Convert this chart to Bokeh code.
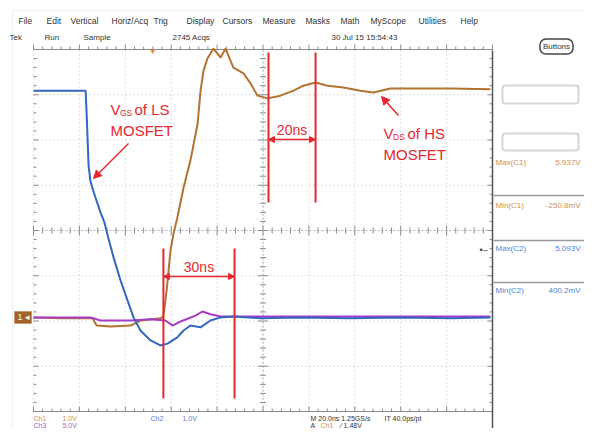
import numpy as np
from bokeh.plotting import figure
from bokeh.models import Range1d, Label, Arrow, NormalHead, BoxAnnotation
from bokeh.embed import file_html
from bokeh.resources import INLINE

# ---------------- data ----------------
ns_per_div = 20.0
n_hdiv = 10
n_vdiv = 8
ground_div = -1.92            # ground level of all channels (divisions)
ch1_v_per_div = 1.0
ch2_v_per_div = 1.0
ch3_v_per_div = 5.0

ch1_time_ns = [0, 11.8, 25.7, 27.5, 33.6, 42.3, 46.6, 55.3, 56.6, 58.0, 59.7, 61.0,
               62.7, 65.4, 68.4, 71.5, 72.8, 74.1, 75.8, 77.1, 78.4, 80.2, 81.5,
               83.7, 85.8, 87.1, 91.5, 94.6, 97.6, 102.0, 107.6, 113.3, 117.6,
               122.9, 128.1, 135.1, 142.5, 148.1, 155.6, 167.3, 181.7, 199.1]
ch1_volts = [0.0, -0.02, -0.02, -0.18, -0.20, -0.18, -0.07, -0.02, 0.02, 0.59, 1.48,
             1.85, 2.21, 2.87, 3.47, 4.28, 5.01, 5.46, 5.72, 5.83, 5.94, 5.83, 5.74,
             5.94, 5.68, 5.52, 5.39, 5.17, 4.90, 4.84, 4.90, 5.01, 5.12, 5.19, 5.12,
             5.08, 5.01, 4.97, 5.06, 5.06, 5.06, 5.04]

ch2_time_ns = [0, 22.7, 23.1, 24.0, 24.8, 25.7, 27.0, 29.2, 30.9, 32.7, 34.9, 37.9,
               41.0, 43.6, 46.6, 51.0, 55.3, 58.4, 62.7, 65.4, 68.4, 72.8, 77.1,
               81.5, 87.1, 98.9, 116.3, 138.1, 159.9, 181.7, 199.1]
ch2_volts = [5.01, 5.01, 4.57, 3.36, 3.02, 2.85, 2.65, 2.32, 2.10, 1.74, 1.32, 0.82,
             0.37, 0.0, -0.29, -0.51, -0.62, -0.58, -0.44, -0.29, -0.18, -0.22,
             -0.07, 0.0, 0.02, -0.02, 0.0, -0.02, 0.0, -0.02, 0.0]

ch3_time_ns = [0, 24.8, 29.2, 42.3, 51.0, 57.5, 60.6, 64.1, 70.6, 73.6, 77.1, 81.5,
               98.9, 199.1]
ch3_volts = [0.0, 0.0, -0.35, -0.35, -0.2, -0.35, -0.9, -0.45, 0.2, 0.65, 0.35, 0.1,
             0.1, 0.1]

cursor_pair_a_ns = [56.6, 87.6]
cursor_pair_b_ns = [102.4, 122.9]
cursor_labels = ["30ns", "20ns"]
trigger_time_ns = 51.9
trigger_level_v = 1.48

menu_items = ["File", "Edit", "Vertical", "Horiz/Acq", "Trig", "Display", "Cursors",
              "Measure", "Masks", "Math", "MyScope", "Utilities", "Help"]
status_items = ["Tek", "Run", "Sample", "2745 Acqs", "30 Jul 15 15:54:43"]
meas_names = ["Max(C1)", "Min(C1)", "Max(C2)", "Min(C2)"]
meas_values = ["5.937V", "-250.8mV", "5.093V", "400.2mV"]

# ---------------- layout helpers (screen pixels of the reference) ----------------
X0, PX_NS, Y0, PX_DIV = 33.0, 2.295, 230.0, 45.25
def X(px): return (px - X0) / PX_NS
def Y(py): return (Y0 - py) / PX_DIV
def dx(px): return px / PX_NS
def dy(px): return px / PX_DIV

W, H = 584, 428
FONT = "Liberation Sans"
C1, C2, C3 = "#b37230", "#3466c2", "#a63cc6"
C1T, C2T, C3T = "#d0904e", "#4f82d4", "#b058c8"
RED = "#e5282f"

p = figure(width=W, height=H, x_range=Range1d(X(0), X(W)),
           y_range=Range1d(Y(H), Y(0)), min_border=0, toolbar_location=None,
           output_backend="svg", background_fill_color="white")
p.axis.visible = False
p.grid.visible = False
p.outline_line_color = None

tmax = ns_per_div * n_hdiv
dtop = n_vdiv / 2

# outer faint frame
p.add_layout(BoxAnnotation(left=X(12), right=X(620), top=Y(10), bottom=Y(460),
                           fill_alpha=0, line_color="#cfcfcf", line_width=1))

# graticule dotted lines
vt = [i * ns_per_div for i in range(n_hdiv + 1)]
hd = [i - dtop for i in range(n_vdiv + 1)]
p.segment(x0=vt, x1=vt, y0=[-dtop] * len(vt), y1=[dtop] * len(vt),
          line_color="#c4c4c4", line_dash="1 3", line_width=1)
p.segment(x0=[0] * len(hd), x1=[tmax] * len(hd), y0=hd, y1=hd,
          line_color="#c4c4c4", line_dash="1 3", line_width=1)

# minor ticks
t_minor = np.arange(0, tmax + 0.01, ns_per_div / 5)
d_minor = np.arange(-dtop, dtop + 0.01, 0.2)
is_major_t = np.isclose(np.mod(t_minor, ns_per_div), 0)
frac_d = np.mod(d_minor + 10, 1.0)
is_major_d = np.isclose(frac_d, 0) | np.isclose(frac_d, 1)
lt = np.where(is_major_t, dy(5), dy(3))
ld = np.where(is_major_d, dx(5), dx(3))
tick_kw = dict(line_color="#8a8a8a", line_width=1)
# center horizontal
p.segment(x0=t_minor, x1=t_minor, y0=-lt, y1=lt, **tick_kw)
p.segment(x0=[0], x1=[tmax], y0=[0], y1=[0], line_color="#b0b0b0", line_dash="2 2")
# center vertical
p.segment(x0=tmax / 2 - ld, x1=tmax / 2 + ld, y0=d_minor, y1=d_minor, **tick_kw)
p.segment(x0=[tmax / 2], x1=[tmax / 2], y0=[-dtop], y1=[dtop], line_color="#b0b0b0", line_dash="2 2")
# top ruler
p.segment(x0=[0], x1=[tmax], y0=[dtop], y1=[dtop], line_color="#8a8a8a")
p.segment(x0=t_minor, x1=t_minor, y0=dtop, y1=dtop + lt, **tick_kw)
# bottom ruler
p.segment(x0=[0], x1=[tmax], y0=[-dtop], y1=[-dtop], line_color="#8a8a8a")
p.segment(x0=t_minor, x1=t_minor, y0=-dtop, y1=-dtop + lt, **tick_kw)
# left/right edge ticks
p.segment(x0=0, x1=ld, y0=d_minor, y1=d_minor, **tick_kw)
p.segment(x0=tmax - ld, x1=tmax, y0=d_minor, y1=d_minor, **tick_kw)
# right panel border
p.segment(x0=[X(492)], x1=[X(492)], y0=[Y(50)], y1=[Y(450)], line_color="#555555", line_width=1.5)

# traces
def to_div(v, scale):
    return [vv / scale + ground_div for vv in v]

p.line(ch1_time_ns, to_div(ch1_volts, ch1_v_per_div), line_color=C1, line_width=2)
p.line(ch3_time_ns, to_div(ch3_volts, ch3_v_per_div), line_color=C3, line_width=2)
p.line(ch2_time_ns, to_div(ch2_volts, ch2_v_per_div), line_color=C2, line_width=2)

# cursors
for pair, lab, ytop, ybot, yarr, ylab in [
        (cursor_pair_a_ns, cursor_labels[0], Y(248), Y(398), Y(276), Y(266)),
        (cursor_pair_b_ns, cursor_labels[1], Y(52), Y(202), Y(139), Y(129))]:
    p.segment(x0=pair, x1=pair, y0=[ytop] * 2, y1=[ybot] * 2, line_color=RED, line_width=2)
    p.add_layout(Arrow(x_start=pair[0], x_end=pair[1], y_start=yarr, y_end=yarr,
                       line_color=RED, line_width=1.5,
                       start=NormalHead(size=6, fill_color=RED, line_color=RED),
                       end=NormalHead(size=6, fill_color=RED, line_color=RED)))
    p.add_layout(Label(x=(pair[0] + pair[1]) / 2, y=ylab, text=lab, text_align="center",
                       text_baseline="middle", text_font=FONT, text_font_size="14px",
                       text_color=RED))

# red annotations
def vlabel(xpx, ybase, sub, rest):
    p.add_layout(Label(x=X(xpx), y=Y(ybase), text="V", text_font=FONT, text_font_size="15px",
                       text_color=RED, text_baseline="alphabetic"))
    p.add_layout(Label(x=X(xpx + 9.5), y=Y(ybase + 3), text=sub, text_font=FONT,
                       text_font_size="8.5px", text_color=RED, text_baseline="alphabetic"))
    p.add_layout(Label(x=X(xpx + 24), y=Y(ybase), text=rest, text_font=FONT,
                       text_font_size="15px", text_color=RED, text_baseline="alphabetic"))
    p.add_layout(Label(x=X(xpx), y=Y(ybase + 21), text="MOSFET", text_font=FONT,
                       text_font_size="15px", text_color=RED, text_baseline="alphabetic"))

vlabel(110, 109, "GS", "of LS")
vlabel(383, 133, "DS", "of HS")
p.add_layout(Arrow(x_start=X(128), y_start=Y(143), x_end=X(93), y_end=Y(178),
                   line_color=RED, line_width=1.5,
                   end=NormalHead(size=8, fill_color=RED, line_color=RED)))
p.add_layout(Arrow(x_start=X(398), y_start=Y(115), x_end=X(381), y_end=Y(96),
                   line_color=RED, line_width=1.5,
                   end=NormalHead(size=8, fill_color=RED, line_color=RED)))

# markers: ground, trigger position, trigger level
p.add_layout(BoxAnnotation(left=X(14), right=X(31), top=ground_div + dy(6),
                           bottom=ground_div - dy(6), fill_color="#a2642a", fill_alpha=1,
                           line_color="#a2642a"))
p.add_layout(Label(x=X(17), y=ground_div, text="1 ◂", text_font=FONT, text_font_size="9px",
                   text_color="white", text_baseline="middle"))
p.add_layout(Label(x=trigger_time_ns, y=Y(51), text="▼", text_font=FONT, text_font_size="8px",
                   text_color="#e08030", text_align="center", text_baseline="middle"))
p.add_layout(Label(x=X(479), y=trigger_level_v / ch1_v_per_div + ground_div, text="•–",
                   text_font=FONT, text_font_size="9px", text_color="#444444",
                   text_baseline="middle"))

# menu bar and status line
menu_x = [18, 46, 70, 111, 153, 186, 222, 262, 305, 340, 370, 418, 460]
for name, xp in zip(menu_items, menu_x):
    p.add_layout(Label(x=X(xp), y=Y(20), text=name, text_font=FONT, text_font_size="8.5px",
                       text_color="#333333", text_baseline="middle"))
status_x = [9, 44, 83, 172, 331]
for name, xp in zip(status_items, status_x):
    p.add_layout(Label(x=X(xp), y=Y(37), text=name, text_font=FONT, text_font_size="8px",
                       text_color="#333333", text_baseline="middle"))
p.add_layout(Label(x=X(556), y=Y(46), text="Buttons", text_font=FONT, text_font_size="8px",
                   text_color="#333333", text_align="center", text_baseline="middle",
                   border_line_color="#444444", border_line_width=1.5, border_radius=6,
                   padding=3, background_fill_color="white"))

# right panel
for yt, yb in [(85, 103), (133, 150)]:
    p.add_layout(BoxAnnotation(left=X(502), right=X(578), top=Y(yt), bottom=Y(yb),
                               fill_color="white", fill_alpha=1, line_color="#777777",
                               line_width=2, border_radius=3))
p.segment(x0=[X(493)] * 3, x1=[X(W)] * 3, y0=[Y(195), Y(240), Y(282)],
          y1=[Y(195), Y(240), Y(282)], line_color="#999999", line_width=1.5)
meas_y = [162, 205, 248, 290]
meas_col = [C1T, C1T, C2T, C2T]
for nm, val, yp, col in zip(meas_names, meas_values, meas_y, meas_col):
    p.add_layout(Label(x=X(495), y=Y(yp), text=nm, text_font=FONT, text_font_size="8px",
                       text_color=col, text_baseline="middle"))
    p.add_layout(Label(x=X(580), y=Y(yp), text=val, text_font=FONT, text_font_size="8px",
                       text_color=col, text_baseline="middle", text_align="right"))

# bottom readouts
r1, r2 = 417.5, 424.5
bottom = [("Ch1", 33, r1, C1T), ("1.0V", 62, r1, C1T), ("Ch2", 150, r1, C2T),
          ("1.0V", 182, r1, C2T), ("Ch3", 33, r2, C3T), ("5.0V", 62, r2, C3T),
          ("M 20.0ns 1.25GS/s", 310, r1, "#333333"), ("IT 40.0ps/pt", 384, r1, "#333333"),
          ("A", 310, r2, "#333333"), ("Ch1", 320, r2, C1T), ("⁄  1.48V", 340, r2, "#333333")]
for txt, xp, yp, col in bottom:
    p.add_layout(Label(x=X(xp), y=Y(yp), text=txt, text_font=FONT, text_font_size="7px",
                       text_color=col, text_baseline="middle"))

open("out.html", "w").write(file_html(p, INLINE))
